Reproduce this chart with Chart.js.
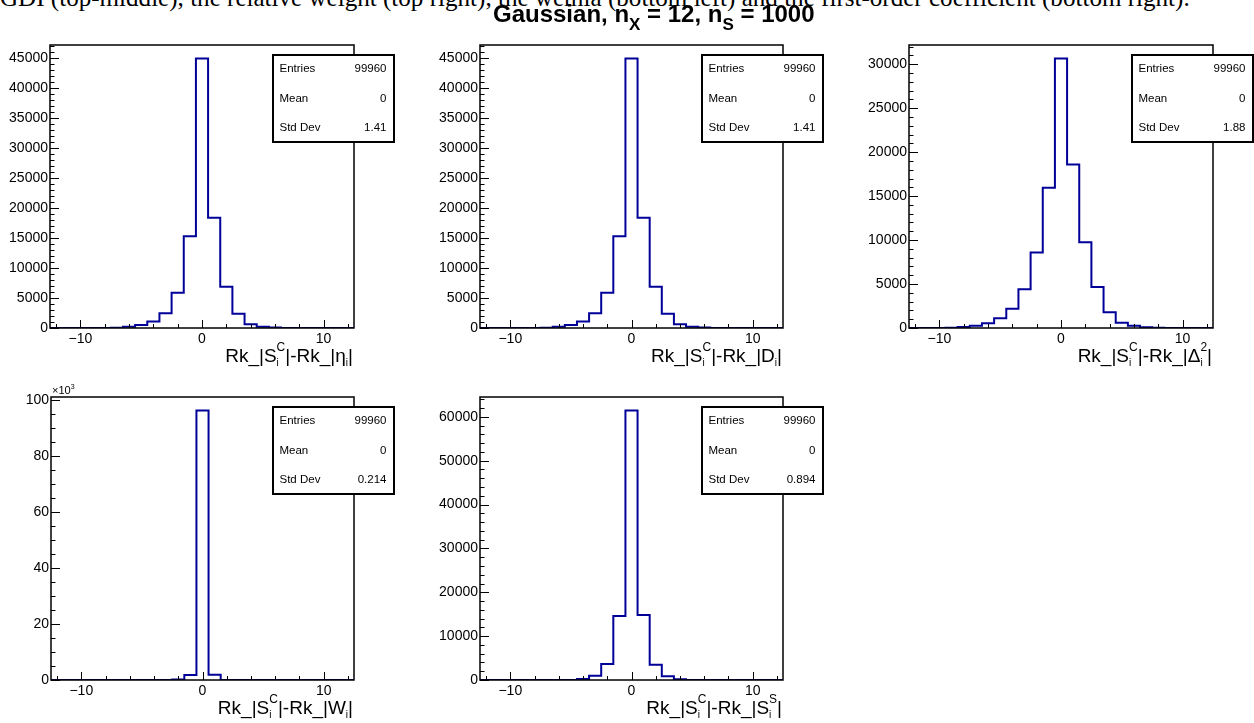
<!DOCTYPE html>
<html>
<head>
<meta charset="utf-8">
<script src="https://cdn.jsdelivr.net/npm/chart.js@4.4.1/dist/chart.umd.min.js"></script>
<style>
  html, body { margin: 0; padding: 0; background: #fff; overflow: hidden; }
  #page { position: relative; width: 1254px; height: 723px; }
  canvas { position: absolute; }
  #caption { position: absolute; left: 0; white-space: nowrap; font-family: 'Liberation Serif', 'Times New Roman', serif; line-height: 1; color: #000; }
  #title { position: absolute; left: 493px; top: 2px; white-space: nowrap; font: bold 24px 'Liberation Sans', Arial, sans-serif; line-height: 24px; color: #000; }
  #title span { font-size: 17px; position: relative; top: 8px; }
</style>
</head>
<body>
<div id="page">
  <canvas id="h1"></canvas>
  <canvas id="h2"></canvas>
  <canvas id="h3"></canvas>
  <canvas id="h4"></canvas>
  <canvas id="h5"></canvas>
  <div id="caption">GDI (top-middle), the relative weight (top right), the wemia (bottom left) and the first-order coefficient (bottom right).</div>
  <div id="title">Gaussian, n<span>X</span> = 12, n<span>S</span> = 1000</div>
</div>
<script>
/* eslint-disable max-len */

// bin centres, bins are 1 wide from -12.5 to 12.5
let binCenters = [-12, -11, -10, -9, -8, -7, -6, -5, -4, -3, -2, -1, 0, 1, 2, 3, 4, 5, 6, 7, 8, 9, 10, 11, 12]

let countsEta = [0, 0, 0, 0, 0, 60, 200, 480, 1100, 2480, 5900, 15300, 44970, 18400, 6900, 2380, 620, 220, 80, 20, 0, 0, 0, 0, 0]
let countsD = [0, 0, 0, 0, 0, 60, 200, 480, 1100, 2480, 5900, 15300, 44970, 18400, 6900, 2380, 620, 220, 80, 20, 0, 0, 0, 0, 0]
let countsDelta2 = [0, 0, 0, 20, 100, 260, 530, 1100, 2200, 4400, 8600, 15950, 30650, 18600, 9750, 4670, 1800, 610, 270, 80, 20, 0, 0, 0, 0]
let countsW = [0, 0, 0, 0, 0, 0, 0, 0, 0, 0, 200, 1800, 96140, 1850, 20, 0, 0, 0, 0, 0, 0, 0, 0, 0, 0]
let countsSS = [0, 0, 0, 0, 0, 0, 0, 0, 230, 990, 3650, 14580, 61450, 14810, 3490, 840, 150, 0, 0, 0, 0, 0, 0, 0, 0]

let xTickLabels = [-10, 0, 10]
let yTicksEta = [0, 5000, 10000, 15000, 20000, 25000, 30000, 35000, 40000, 45000]
let yTicksD = [0, 5000, 10000, 15000, 20000, 25000, 30000, 35000, 40000, 45000]
let yTicksDelta2 = [0, 5000, 10000, 15000, 20000, 25000, 30000]
let yTicksW = [0, 20000, 40000, 60000, 80000, 100000]
let yTicksSS = [0, 10000, 20000, 30000, 40000, 50000, 60000]

let statEntries = [99960, 99960, 99960, 99960, 99960]
let statMeans = ['0', '0', '0', '0', '0']
let statStdDevs = ['1.41', '1.41', '1.88', '0.214', '0.894']

let yMinorSteps = [1000, 1000, 1000, 5000, 2000]

let axisTitles = [
  ['Rk_|S', ['C', 'i'], '|-Rk_|\u03b7', ['', 'i'], '|'],
  ['Rk_|S', ['C', 'i'], '|-Rk_|D', ['', 'i'], '|'],
  ['Rk_|S', ['C', 'i'], '|-Rk_|\u0394', ['2', 'i'], '|'],
  ['Rk_|S', ['C', 'i'], '|-Rk_|W', ['', 'i'], '|'],
  ['Rk_|S', ['C', 'i'], '|-Rk_|S', ['S', 'i'], '|'],
]

let allCounts = [countsEta, countsD, countsDelta2, countsW, countsSS]
let allYTicks = [yTicksEta, yTicksD, yTicksDelta2, yTicksW, yTicksSS]

// frame boxes of the five pads [left, top, right, bottom]
let frames = [
  [50, 45, 354, 328],
  [480, 45, 783, 328],
  [909, 45, 1213, 328],
  [51, 397, 354, 680],
  [480, 397, 783, 680],
]

let sans = "'Liberation Sans', Arial, sans-serif"
let lineColor = '#000099'

Chart.defaults.font.family = sans
Chart.defaults.color = '#000'

// caption at the very top, partly cut off
let cap = document.getElementById('caption')
let mctx = document.createElement('canvas').getContext('2d')
mctx.font = "100px 'Liberation Serif', 'Times New Roman', serif"
let capSize = 100 * 1190 / mctx.measureText(cap.textContent).width
cap.style.fontSize = capSize + 'px'
cap.style.top = (6 - 0.8375 * capSize) + 'px'

function minus(v) {
  return v < 0 ? '\u2212' + Math.abs(v) : String(v)
}

function drawAxisTitle(ctx, segs, right, base) {
  let big = '19px ' + sans
  let sup = '12px ' + sans
  let sub = '10px ' + sans
  let w = 0
  segs.forEach((s) => {
    if (typeof s === 'string') {
      ctx.font = big
      w += ctx.measureText(s).width
    } else {
      ctx.font = sup
      let a = ctx.measureText(s[0]).width
      ctx.font = sub
      let b = ctx.measureText(s[1]).width
      w += Math.max(a, b)
    }
  })
  let x = right - w
  ctx.textAlign = 'left'
  ctx.textBaseline = 'alphabetic'
  segs.forEach((s) => {
    if (typeof s === 'string') {
      ctx.font = big
      ctx.fillText(s, x, base)
      x += ctx.measureText(s).width
    } else {
      ctx.font = sup
      ctx.fillText(s[0], x, base - 11)
      let a = ctx.measureText(s[0]).width
      ctx.font = sub
      ctx.fillText(s[1], x, base + 4)
      x += Math.max(a, ctx.measureText(s[1]).width)
    }
  })
}

let rootPad = {
  id: 'rootPad',
  afterDraw(chart, args, opts) {
    let {ctx, chartArea: a} = chart
    let x = chart.scales.x
    let y = chart.scales.y
    let majors = y.ticks.map((t) => t.value)
    ctx.save()
    ctx.strokeStyle = '#000'
    ctx.lineWidth = 1
    ctx.beginPath()
    for (let v = -12; v <= 12; v += 2) {
      let px = Math.round(x.getPixelForValue(v)) + 0.5
      let len = v % 10 === 0 ? 8 : 4
      ctx.moveTo(px, a.bottom)
      ctx.lineTo(px, a.bottom - len)
    }
    for (let v = 0; v <= y.max; v += opts.yMinor) {
      let py = Math.round(y.getPixelForValue(v)) + 0.5
      let len = majors.includes(v) ? 9 : 4.5
      ctx.moveTo(a.left, py)
      ctx.lineTo(a.left + len, py)
    }
    ctx.stroke()

    ctx.lineWidth = 1.5
    ctx.strokeRect(a.left, a.top, a.right - a.left, a.bottom - a.top)

    if (opts.times1000) {
      ctx.fillStyle = '#000'
      ctx.font = '11px ' + sans
      ctx.textAlign = 'left'
      ctx.textBaseline = 'alphabetic'
      ctx.fillText('\u00d710', a.left + 1, a.top - 3)
      let tw = ctx.measureText('\u00d710').width
      ctx.font = '7px ' + sans
      ctx.fillText('3', a.left + 1 + tw, a.top - 8)
    }

    // stats box
    let bx = a.right - 81
    let by = a.top + 10
    let bw = 121
    let bh = 87
    ctx.fillStyle = '#fff'
    ctx.fillRect(bx, by, bw, bh)
    ctx.lineWidth = 2
    ctx.strokeRect(bx, by, bw, bh)
    ctx.fillStyle = '#000'
    ctx.font = '11.5px ' + sans
    ctx.textBaseline = 'middle'
    let rows = [['Entries', String(opts.entries)], ['Mean', opts.mean], ['Std Dev', opts.std]]
    rows.forEach((r, i) => {
      let ry = by + 14 + i * 29.5
      ctx.textAlign = 'left'
      ctx.fillText(r[0], bx + 6.5, ry)
      ctx.textAlign = 'right'
      ctx.fillText(r[1], bx + bw - 7.5, ry)
    })

    drawAxisTitle(ctx, opts.title, a.right - 1, a.bottom + 34)
    ctx.restore()
  },
}

allCounts.forEach((counts, k) => {
  let [L, T, R, B] = frames[k]
  let canvas = document.getElementById('h' + (k + 1))
  let padTop = 20
  let padRight = 42
  let yW = 50
  let xH = 45
  canvas.width = (R - L) + yW + padRight
  canvas.height = (B - T) + padTop + xH
  canvas.style.left = (L - yW) + 'px'
  canvas.style.top = (T - padTop) + 'px'

  // step outline from the bin edges
  let pts = counts.map((c, i) => ({x: binCenters[i] - 0.5, y: c}))
  pts.push({x: binCenters[binCenters.length - 1] + 0.5, y: counts[counts.length - 1]})

  let peak = Math.max(...counts)
  let times1000 = k === 3
  let yTicks = allYTicks[k]

  new Chart(canvas, {
    type: 'line',
    data: {
      datasets: [{
        data: pts,
        stepped: true,
        borderColor: lineColor,
        borderWidth: 2,
        pointRadius: 0,
        fill: false,
      }],
    },
    options: {
      responsive: false,
      animation: false,
      layout: {padding: {top: padTop, right: padRight, left: 0, bottom: 0}},
      plugins: {
        legend: {display: false},
        tooltip: {enabled: false},
        rootPad: {
          yMinor: yMinorSteps[k],
          entries: statEntries[k],
          mean: statMeans[k],
          std: statStdDevs[k],
          title: axisTitles[k],
          times1000: times1000,
        },
      },
      scales: {
        x: {
          type: 'linear',
          min: -12.5,
          max: 12.5,
          grid: {display: false, drawTicks: false},
          border: {display: false},
          afterBuildTicks: (s) => {
            s.ticks = xTickLabels.map((v) => ({value: v}))
          },
          afterFit: (s) => {
            s.height = xH
          },
          ticks: {
            padding: 3,
            maxRotation: 0,
            font: {size: 14},
            callback: (v) => minus(v),
          },
        },
        y: {
          type: 'linear',
          min: 0,
          max: peak * 1.05,
          grid: {display: false, drawTicks: false},
          border: {display: false},
          afterBuildTicks: (s) => {
            s.ticks = yTicks.map((v) => ({value: v}))
          },
          afterFit: (s) => {
            s.width = yW
          },
          ticks: {
            padding: 2,
            font: {size: 14},
            callback: (v) => times1000 ? String(v / 1000) : String(v),
          },
        },
      },
    },
    plugins: [rootPad],
  })
})
</script>
</body>
</html>
